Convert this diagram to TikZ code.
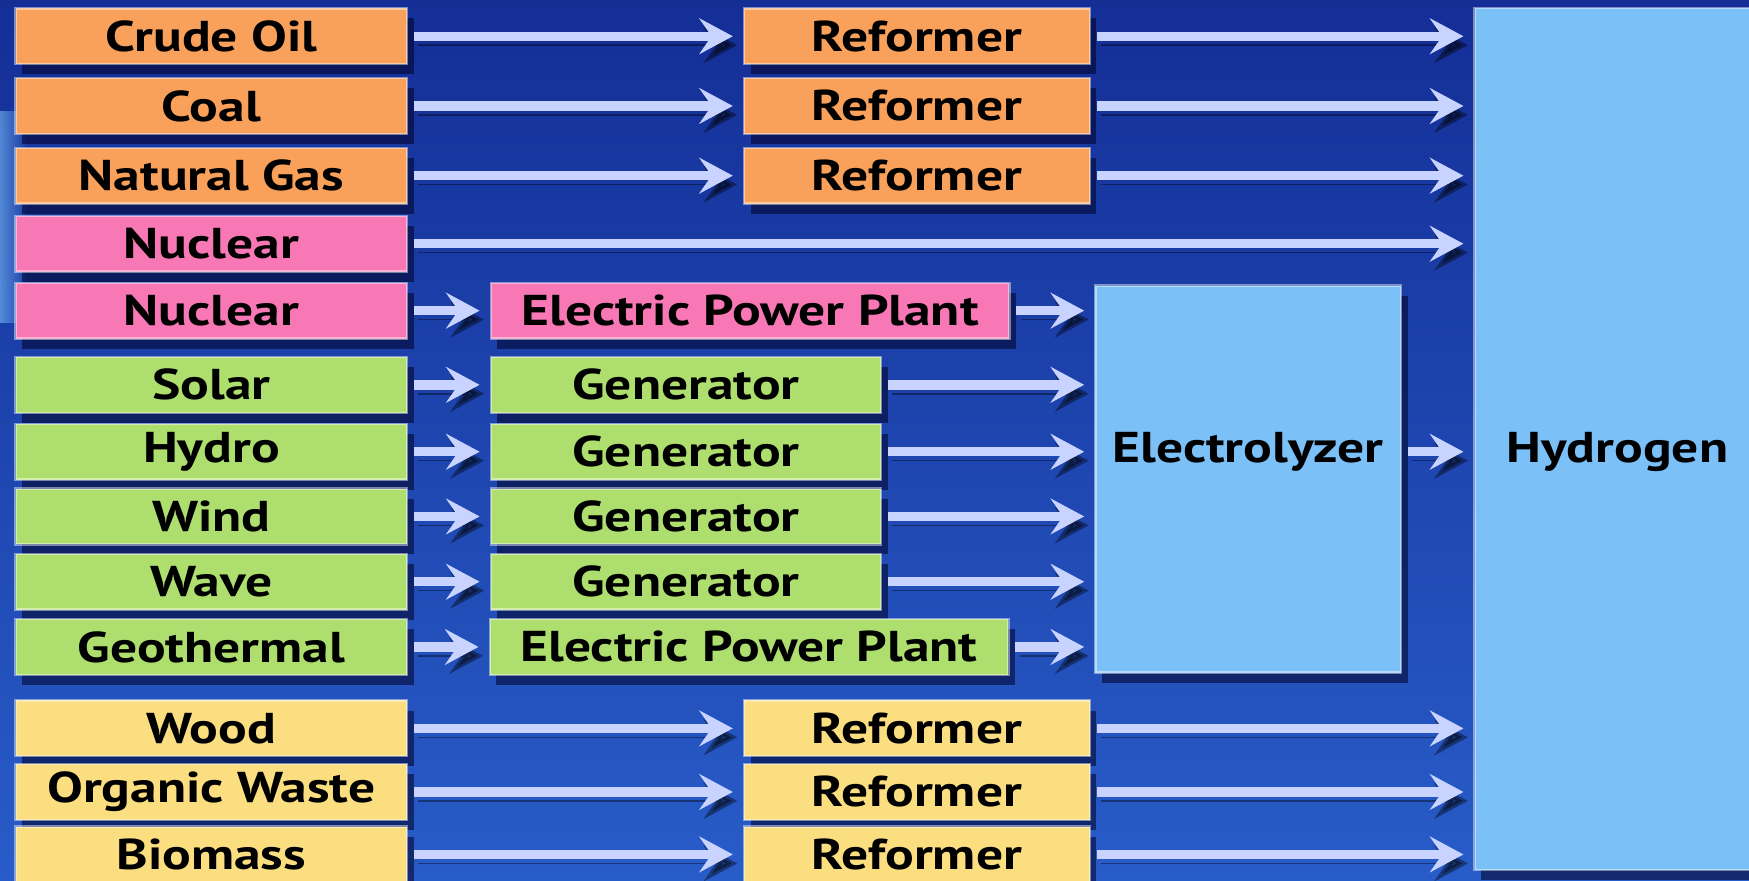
\documentclass[tikz,border=0pt]{standalone}
\usepackage{fontspec}
\setmainfont{PT Sans}[FakeStretch=1.24]
\usetikzlibrary{positioning,calc,arrows.meta,shadows,fadings}
\definecolor{BgDark}{RGB}{20,46,150}
\definecolor{BgLight}{RGB}{40,92,200}
\definecolor{BgGlow}{RGB}{120,190,250}
\definecolor{FossilOrange}{RGB}{249,161,90}
\definecolor{NuclearPink}{RGB}{248,120,182}
\definecolor{RenewGreen}{RGB}{174,223,110}
\definecolor{BioYellow}{RGB}{251,222,128}
\definecolor{HydroBlue}{RGB}{124,192,248}
\definecolor{ArrowBlue}{RGB}{200,212,255}

\begin{document}
\begin{tikzpicture}[
    font=\bfseries\fontsize{11}{13}\selectfont,
    >={Stealth[length=3mm,width=3.2mm,inset=1.1mm]},
    box/.style={
        rectangle,
        inner sep=0pt,
        minimum height=0.5cm,
        draw=white,
        draw opacity=0.45,
        line width=0.6pt,
        drop shadow={shadow xshift=0.6mm,shadow yshift=-0.9mm,fill=black!85!blue,opacity=0.55}
    },
    source/.style={box, minimum width=3.51cm},
    reformer/.style={box, minimum width=3.10cm},
    plant/.style={box, minimum width=4.65cm},
    generator/.style={box, minimum width=3.50cm},
    tall/.style={box, fill=HydroBlue},
    arrow/.style={
        ->,
        line width=2.4pt,
        draw=ArrowBlue,
        shorten <=0.05cm,
        shorten >=0.09cm,
        preaction={draw=black, opacity=0.4, transform canvas={xshift=0.4mm,yshift=-0.8mm}}
    }
]

\useasboundingbox (0,0) rectangle (15.68,-7.89);
\shade[top color=BgDark, bottom color=BgLight] (0,0) rectangle (15.68,-7.89);
\fill[BgGlow, opacity=0.6, path fading=east] (0,-1.0) rectangle (0.25,-2.9);

\node[source, fill=FossilOrange] (crude) at (1.895,-0.325) {Crude Oil};
\node[source, fill=FossilOrange] (coal) at (1.895,-0.95) {Coal};
\node[source, fill=FossilOrange] (gas) at (1.895,-1.575) {Natural Gas};
\node[source, fill=NuclearPink] (nucA) at (1.895,-2.185) {Nuclear};
\node[source, fill=NuclearPink] (nucB) at (1.895,-2.785) {Nuclear};
\node[source, fill=RenewGreen] (solar) at (1.895,-3.45) {Solar};
\node[source, fill=RenewGreen] (hydro) at (1.895,-4.05) {Hydro};
\node[source, fill=RenewGreen] (wind) at (1.895,-4.63) {Wind};
\node[source, fill=RenewGreen] (wave) at (1.895,-5.215) {Wave};
\node[source, fill=RenewGreen] (geo) at (1.895,-5.80) {Geothermal};
\node[source, fill=BioYellow] (wood) at (1.895,-6.53) {Wood};
\node[source, fill=BioYellow] (waste) at (1.895,-7.10) {Organic Waste};
\node[source, fill=BioYellow] (bio) at (1.895,-7.66) {Biomass};

\node[reformer, fill=FossilOrange] (refA) at (8.22,-0.325) {Reformer};
\node[reformer, fill=FossilOrange] (refB) at (8.22,-0.95) {Reformer};
\node[reformer, fill=FossilOrange] (refC) at (8.22,-1.575) {Reformer};
\node[plant, fill=NuclearPink] (plantA) at (6.725,-2.785) {Electric Power Plant};
\node[generator, fill=RenewGreen] (genA) at (6.15,-3.45) {Generator};
\node[generator, fill=RenewGreen] (genB) at (6.15,-4.05) {Generator};
\node[generator, fill=RenewGreen] (genC) at (6.15,-4.63) {Generator};
\node[generator, fill=RenewGreen] (genD) at (6.15,-5.215) {Generator};
\node[plant, fill=RenewGreen] (plantB) at (6.715,-5.80) {Electric Power Plant};
\node[reformer, fill=BioYellow] (refD) at (8.22,-6.53) {Reformer};
\node[reformer, fill=BioYellow] (refE) at (8.22,-7.10) {Reformer};
\node[reformer, fill=BioYellow] (refF) at (8.22,-7.66) {Reformer};

\node[tall, minimum width=2.74cm, minimum height=3.47cm] (ely) at (11.19,-4.295) {};
\node (elytext) at (ely.center |- hydro) {Electrolyzer};
\node[tall, minimum width=2.56cm, minimum height=7.73cm] (hyd) at (14.50,-3.935) {};
\node (hydtext) at (hyd.center |- hydro) {Hydrogen};

\draw[arrow] (crude.east) -- (refA.west);
\draw[arrow] (coal.east) -- (refB.west);
\draw[arrow] (gas.east) -- (refC.west);
\draw[arrow] (wood.east) -- (refD.west);
\draw[arrow] (waste.east) -- (refE.west);
\draw[arrow] (bio.east) -- (refF.west);

\draw[arrow] (refA.east) -- (refA.east -| hyd.west);
\draw[arrow] (refB.east) -- (refB.east -| hyd.west);
\draw[arrow] (refC.east) -- (refC.east -| hyd.west);
\draw[arrow] (nucA.east) -- (nucA.east -| hyd.west);
\draw[arrow] (refD.east) -- (refD.east -| hyd.west);
\draw[arrow] (refE.east) -- (refE.east -| hyd.west);
\draw[arrow] (refF.east) -- (refF.east -| hyd.west);

\draw[arrow] (nucB.east) -- (plantA.west);
\draw[arrow] (solar.east) -- (genA.west);
\draw[arrow] (hydro.east) -- (genB.west);
\draw[arrow] (wind.east) -- (genC.west);
\draw[arrow] (wave.east) -- (genD.west);
\draw[arrow] (geo.east) -- (plantB.west);

\draw[arrow] (plantA.east) -- (plantA.east -| ely.west);
\draw[arrow] (genA.east) -- (genA.east -| ely.west);
\draw[arrow] (genB.east) -- (genB.east -| ely.west);
\draw[arrow] (genC.east) -- (genC.east -| ely.west);
\draw[arrow] (genD.east) -- (genD.east -| ely.west);
\draw[arrow] (plantB.east) -- (plantB.east -| ely.west);

\draw[arrow] (ely.east |- elytext) -- (hyd.west |- elytext);

\end{tikzpicture}
\end{document}
